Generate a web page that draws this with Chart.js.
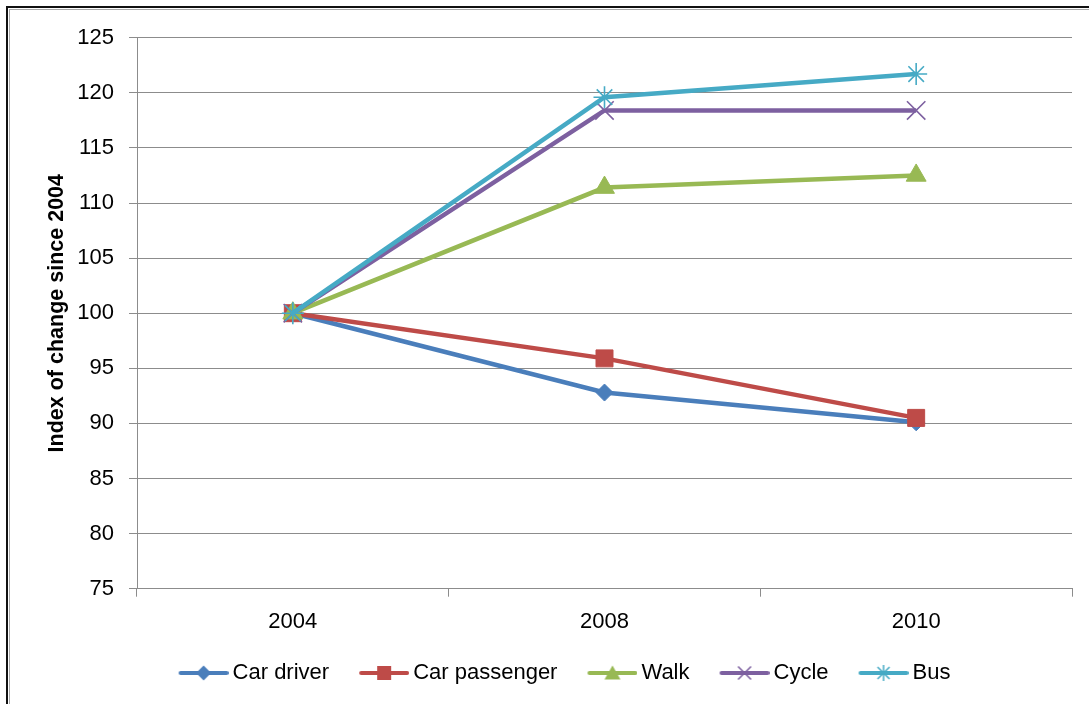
<!DOCTYPE html>
<html>
<head>
<meta charset="utf-8">
<title>Index of change since 2004</title>
<script src="https://cdn.jsdelivr.net/npm/chart.js@4.4.1/dist/chart.umd.min.js"></script>
<style>
  html, body { margin: 0; padding: 0; background: #fff; overflow: hidden; }
  #wrap { position: relative; width: 1089px; height: 704px; }
  #wrap canvas { position: absolute; left: 0; top: 0; }
  .edge { position: absolute; pointer-events: none; width: 1200px; height: 800px; }
  #edgeOuter { left: 6px; top: 6px; border-left: 2px solid #111; border-top: 2px solid #111; }
  #edgeInner { left: 9px; top: 9px; border-left: 1px solid #a9a9a9; border-top: 1px solid #a9a9a9; }
</style>
</head>
<body>
<div id="wrap">
  <canvas id="chart" width="1089" height="704"></canvas>
  <div class="edge" id="edgeOuter"></div>
  <div class="edge" id="edgeInner"></div>
</div>
<script>
// Survey years (categories)
const years = ['2004', '2008', '2010'];

// Index values per travel mode (2004 = 100)
const carDriver    = [100, 92.8, 90.1];
const carPassenger = [100, 95.9, 90.5];
const walk         = [100, 111.4, 112.5];
const cycle        = [100, 118.4, 118.4];
const bus          = [100, 119.6, 121.7];

const seriesNames = ['Car driver', 'Car passenger', 'Walk', 'Cycle', 'Bus'];
const seriesValues = [carDriver, carPassenger, walk, cycle, bus];

// Value axis range
const yMin = 75;
const yMax = 125;
const yStep = 5;

const axisTitle = 'Index of change since 2004';

// Styling
const lineColors = ['#4A7EBB', '#BE4B48', '#98B954', '#7D60A0', '#46AAC5'];
const markerStyles = ['rectRot', 'rect', 'triangle', 'crossRot', 'star'];
const markerRadius = [8.5, 12, 11.5, 13, 11];
const markerBorder = [1, 1, 1, 1.6, 1.6];
const FONT = "'Liberation Sans', Arial, sans-serif";
const GRID = '#8c8c8c';

// Legend key: a short line with the series marker; the blank strip on the
// left keeps the key close to its label while spacing the entries apart.
const KEY_BLANK = 20;
function legendIcon(color, style) {
  const c = document.createElement('canvas');
  c.width = KEY_BLANK + 50; c.height = 20;
  const g = c.getContext('2d');
  const x0 = KEY_BLANK, cx = KEY_BLANK + 25, cy = 10;
  g.strokeStyle = color; g.fillStyle = color;
  g.lineWidth = 4; g.lineCap = 'round';
  g.beginPath(); g.moveTo(x0 + 2, cy); g.lineTo(x0 + 48, cy); g.stroke();
  g.lineCap = 'butt';
  g.beginPath();
  if (style === 'rectRot') {
    g.moveTo(cx, cy - 7.5); g.lineTo(cx + 7.5, cy); g.lineTo(cx, cy + 7.5); g.lineTo(cx - 7.5, cy); g.closePath(); g.fill();
  } else if (style === 'rect') {
    g.rect(cx - 7, cy - 7, 14, 14); g.fill();
  } else if (style === 'triangle') {
    g.moveTo(cx, cy - 7.5); g.lineTo(cx + 8, cy + 6.5); g.lineTo(cx - 8, cy + 6.5); g.closePath(); g.fill();
  } else if (style === 'crossRot') {
    g.lineWidth = 1.5;
    g.moveTo(cx - 6.5, cy - 6.5); g.lineTo(cx + 6.5, cy + 6.5);
    g.moveTo(cx + 6.5, cy - 6.5); g.lineTo(cx - 6.5, cy + 6.5); g.stroke();
  } else if (style === 'star') {
    g.lineWidth = 1.5;
    g.moveTo(cx - 6, cy - 6); g.lineTo(cx + 6, cy + 6);
    g.moveTo(cx + 6, cy - 6); g.lineTo(cx - 6, cy + 6);
    g.moveTo(cx, cy - 8); g.lineTo(cx, cy + 8); g.stroke();
  }
  return c;
}

const icons = seriesNames.map((n, i) => legendIcon(lineColors[i], markerStyles[i]));

const datasets = seriesNames.map((name, i) => ({
  label: name,
  data: seriesValues[i],
  borderColor: lineColors[i],
  backgroundColor: lineColors[i],
  borderWidth: 4.5,
  tension: 0,
  pointStyle: markerStyles[i],
  pointRadius: markerRadius[i],
  pointBorderWidth: markerBorder[i],
  pointBackgroundColor: lineColors[i],
  pointBorderColor: lineColors[i],
  order: seriesNames.length - 1 - i
}));

new Chart(document.getElementById('chart'), {
  type: 'line',
  data: { labels: years, datasets },
  options: {
    responsive: false,
    animation: false,
    layout: { padding: { left: 44, right: 17, top: 37.7, bottom: 10 } },
    scales: {
      x: {
        type: 'category',
        offset: true,
        grid: { offset: true, drawOnChartArea: false, drawTicks: true, tickLength: 8, color: GRID, lineWidth: 1 },
        border: { display: true, color: GRID, width: 1 },
        ticks: { color: '#000', padding: 12, font: { family: FONT, size: 22 } },
        afterFit: s => { s.height = 56.3; }
      },
      y: {
        min: yMin,
        max: yMax,
        ticks: { stepSize: yStep, color: '#000', padding: 15, font: { family: FONT, size: 22 } },
        grid: { color: GRID, lineWidth: 1, tickLength: 8, drawTicks: true },
        border: { display: true, color: GRID, width: 1 },
        title: {
          display: true,
          text: axisTitle,
          color: '#000',
          padding: { top: 0, bottom: 0 },
          font: { family: FONT, size: 21.5, weight: 'bold' }
        },
        afterFit: s => { s.width = 93; }
      }
    },
    plugins: {
      tooltip: { enabled: false },
      legend: {
        position: 'bottom',
        labels: {
          usePointStyle: true,
          pointStyleWidth: KEY_BLANK + 36,
          padding: 17,
          color: '#000',
          font: { family: FONT, size: 22 },
          generateLabels: chart => chart.data.datasets.map((ds, i) => ({
            text: ds.label,
            pointStyle: icons[i],
            fillStyle: ds.borderColor,
            strokeStyle: ds.borderColor,
            fontColor: '#000',
            lineWidth: 0,
            hidden: !chart.isDatasetVisible(i),
            datasetIndex: i
          }))
        }
      }
    }
  }
});
</script>
</body>
</html>
